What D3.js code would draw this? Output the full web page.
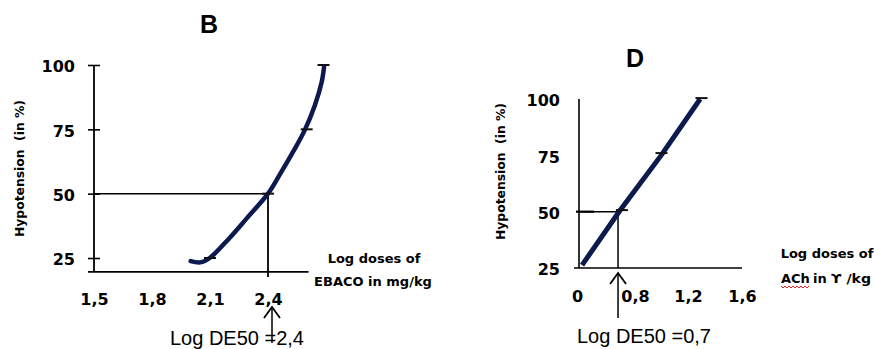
<!DOCTYPE html>
<html>
<head>
<meta charset="utf-8">
<script src="https://cdn.jsdelivr.net/npm/d3@7/dist/d3.min.js"></script>
<style>
body { margin: 0; background: #fff; }
svg { display: block; }
.tick text { font-family: "DejaVu Sans", sans-serif; font-weight: bold; font-size: 16px; fill: #000; }
.lbl { font-family: "DejaVu Sans", sans-serif; font-weight: bold; font-size: 13px; fill: #000; }
.ytitle { font-family: "DejaVu Sans", sans-serif; font-weight: bold; font-size: 12.5px; fill: #000; }
.de50 { font-family: "Liberation Sans", Arial, sans-serif; font-size: 20px; fill: #000; }
.ptitle { font-family: "Liberation Sans", Arial, sans-serif; font-weight: bold; font-size: 25px; fill: #000; }
</style>
</head>
<body>
<svg id="chart" width="874" height="349"></svg>
<script>
// PANEL B : EBACO (log dose in mg/kg vs hypotension %)
var bDoseX = [2.00, 2.05, 2.10, 2.20, 2.29, 2.40, 2.46, 2.53, 2.59, 2.643, 2.678, 2.69];
var bHypoY = [23.8, 23.3, 25.1, 32.7, 40.4, 50, 57.3, 66.3, 74.7, 84.5, 93.5, 99.3];
var bMarkX = [2.10, 2.40, 2.60, 2.687]; // small caps on the curve
var bMarkY = [25, 50, 75, 100];
var bXTicks = [1.5, 1.8, 2.1, 2.4];
var bYTicks = [25, 50, 75, 100];
var bDE50 = 2.4;

// PANEL D : ACh (log dose in gamma/kg vs hypotension %)
var dDoseX = [0.07, 0.59, 1.0, 1.29];
var dHypoY = [26.3, 50.4, 75.2, 100];
var dMarkX = [0.62, 1.0, 1.30];
var dMarkY = [50.7, 76, 100.4];
var dXTicks = [0, 0.8, 1.2, 1.6];
var dYTicks = [25, 50, 75, 100];
var dDE50 = 0.566;

var svg = d3.select("#chart");
var navy = "#0c1a4e";
var comma = function (d) { return String(d).replace(".", ","); };

// scales
var xB = d3.scaleLinear().domain([1.5, 2.4]).range([94, 268]);
var yB = d3.scaleLinear().domain([25, 100]).range([258, 65]);
var xD = d3.scaleLinear().domain(dXTicks).range([577, 635, 688, 742]); // tick labels are spaced unevenly
var yD = d3.scaleLinear().domain([25, 100]).range([268, 99]);

function line(g, x1, y1, x2, y2, w) {
    g.append("line").attr("x1", x1).attr("y1", y1).attr("x2", x2).attr("y2", y2)
        .attr("stroke", "#000").attr("stroke-width", w || 1.5);
}

function arrow(g, x, yTip, yEnd) {
    line(g, x, yTip, x, yEnd, 1.5);
    g.append("path")
        .attr("d", "M" + (x - 8) + "," + (yTip + 11) + "L" + x + "," + yTip + "L" + (x + 8) + "," + (yTip + 11))
        .attr("fill", "none").attr("stroke", "#000").attr("stroke-width", 1.8);
}

function yTitle(g, cx, cy) {
    g.append("text").attr("class", "ytitle")
        .attr("transform", "translate(" + cx + "," + cy + ") rotate(-90)")
        .attr("text-anchor", "middle").attr("dy", "0.35em")
        .attr("textLength", 137).attr("lengthAdjust", "spacingAndGlyphs")
        .style("white-space", "pre")
        .text("Hypotension  (in %)");
}

//// PANEL B
var gB = svg.append("g");
gB.append("text").attr("class", "ptitle").attr("x", 209).attr("y", 33)
    .attr("text-anchor", "middle").text("B");

// axis lines
var bBase = yB(19.6);
line(gB, xB(1.5), yB(100), xB(1.5), bBase, 1.8);
line(gB, xB(1.469), bBase, xB(2.61), bBase, 1.8);

// y axis with cross ticks
var bYAxis = gB.append("g").attr("transform", "translate(" + xB(1.5) + ",0)")
    .call(d3.axisLeft(yB).tickValues(bYTicks).tickSize(6).tickPadding(13).tickFormat(comma));
bYAxis.select(".domain").remove();
bYAxis.selectAll(".tick line").attr("x1", 6).attr("x2", -6).attr("stroke", "#000").attr("stroke-width", 1.6);
bYAxis.selectAll(".tick text").attr("dy", "0.42em");

var bXAxis = gB.append("g").attr("transform", "translate(0," + bBase + ")")
    .call(d3.axisBottom(xB).tickValues(bXTicks).tickSize(0).tickPadding(22).tickFormat(comma));
bXAxis.select(".domain").remove();

// DE50 guides
line(gB, xB(1.5), yB(50), xB(bDE50), yB(50), 1.5);
line(gB, xB(bDE50), yB(50), xB(bDE50), yB(17.6), 1.8);

// curve
gB.append("path").datum(d3.zip(bDoseX, bHypoY))
    .attr("d", d3.line().x(function (d) { return xB(d[0]); }).y(function (d) { return yB(d[1]); })
        .curve(d3.curveCatmullRom.alpha(0.5)))
    .attr("fill", "none").attr("stroke", navy).attr("stroke-width", 4.5).attr("stroke-linecap", "round");
gB.selectAll(".cap").data(d3.zip(bMarkX, bMarkY)).enter().append("line")
    .attr("x1", function (d) { return xB(d[0]) - 6; }).attr("x2", function (d) { return xB(d[0]) + 6; })
    .attr("y1", function (d) { return yB(d[1]); }).attr("y2", function (d) { return yB(d[1]); })
    .attr("stroke", "#111").attr("stroke-width", 2);

// labels
gB.append("text").attr("class", "lbl").attr("x", 374).attr("y", 263).attr("text-anchor", "middle").text("Log doses of");
gB.append("text").attr("class", "lbl").attr("x", 373).attr("y", 286).attr("text-anchor", "middle").text("EBACO in mg/kg");
yTitle(gB, 20, 168.5);
arrow(gB, xB(bDE50) + 4, 307, 343);
gB.append("text").attr("class", "de50").attr("x", 170).attr("y", 345).style("white-space", "pre").text("Log DE50 =2,4");

//// PANEL D
var gD = svg.append("g");
gD.append("text").attr("class", "ptitle").attr("x", 635).attr("y", 67)
    .attr("text-anchor", "middle").text("D");

var dAxisX = xD(0) + 2;
line(gD, dAxisX, yD(100), dAxisX, yD(25), 1.6);
line(gD, dAxisX - 5, yD(25), xD(1.6), yD(25), 1.6);

var dYAxis = gD.append("g").attr("transform", "translate(" + dAxisX + ",0)")
    .call(d3.axisLeft(yD).tickValues(dYTicks).tickSize(0).tickPadding(19).tickFormat(comma));
dYAxis.select(".domain").remove();
dYAxis.selectAll(".tick text").attr("dy", "0.42em");

var dXAxis = gD.append("g").attr("transform", "translate(0," + yD(25) + ")")
    .call(d3.axisBottom(xD).tickValues(dXTicks).tickSize(0).tickPadding(23).tickFormat(comma));
dXAxis.select(".domain").remove();

// DE50 guides
line(gD, dAxisX - 3, yD(50), dAxisX + 15, yD(50), 2.2);
line(gD, dAxisX, yD(50), xD(dDE50), yD(50), 1.5);
line(gD, xD(dDE50), yD(50), xD(dDE50), yD(25), 1.5);
arrow(gD, xD(dDE50), 273, 318);

gD.append("path").datum(d3.zip(dDoseX, dHypoY))
    .attr("d", d3.line().x(function (d) { return xD(d[0]); }).y(function (d) { return yD(d[1]); }))
    .attr("fill", "none").attr("stroke", navy).attr("stroke-width", 5);
gD.selectAll(".cap").data(d3.zip(dMarkX, dMarkY)).enter().append("line")
    .attr("x1", function (d) { return xD(d[0]) - 6; }).attr("x2", function (d) { return xD(d[0]) + 6; })
    .attr("y1", function (d) { return yD(d[1]); }).attr("y2", function (d) { return yD(d[1]); })
    .attr("stroke", "#111").attr("stroke-width", 2);

gD.append("text").attr("class", "lbl").attr("x", 827).attr("y", 258).attr("text-anchor", "middle").text("Log doses of");
var achLbl = gD.append("text").attr("class", "lbl").attr("y", 283).style("white-space", "pre");
achLbl.append("tspan").attr("x", 781).text("ACh");
achLbl.append("tspan").attr("x", 813).text("in");
achLbl.append("tspan").attr("x", 831).attr("textLength", 40).attr("lengthAdjust", "spacingAndGlyphs").text("ϒ /kg");
// spell-check squiggle under "ACh"
var wave = d3.range(0, 15).map(function (i) { return [781 + i * 2, 286 + (i % 2 ? 2 : 0)]; });
gD.append("path").attr("d", d3.line()(wave)).attr("fill", "none").attr("stroke", "#e02020").attr("stroke-width", 1);

yTitle(gD, 501, 171.5);
gD.append("text").attr("class", "de50").attr("x", 577).attr("y", 343).style("white-space", "pre").text("Log DE50 =0,7");
</script>
</body>
</html>
